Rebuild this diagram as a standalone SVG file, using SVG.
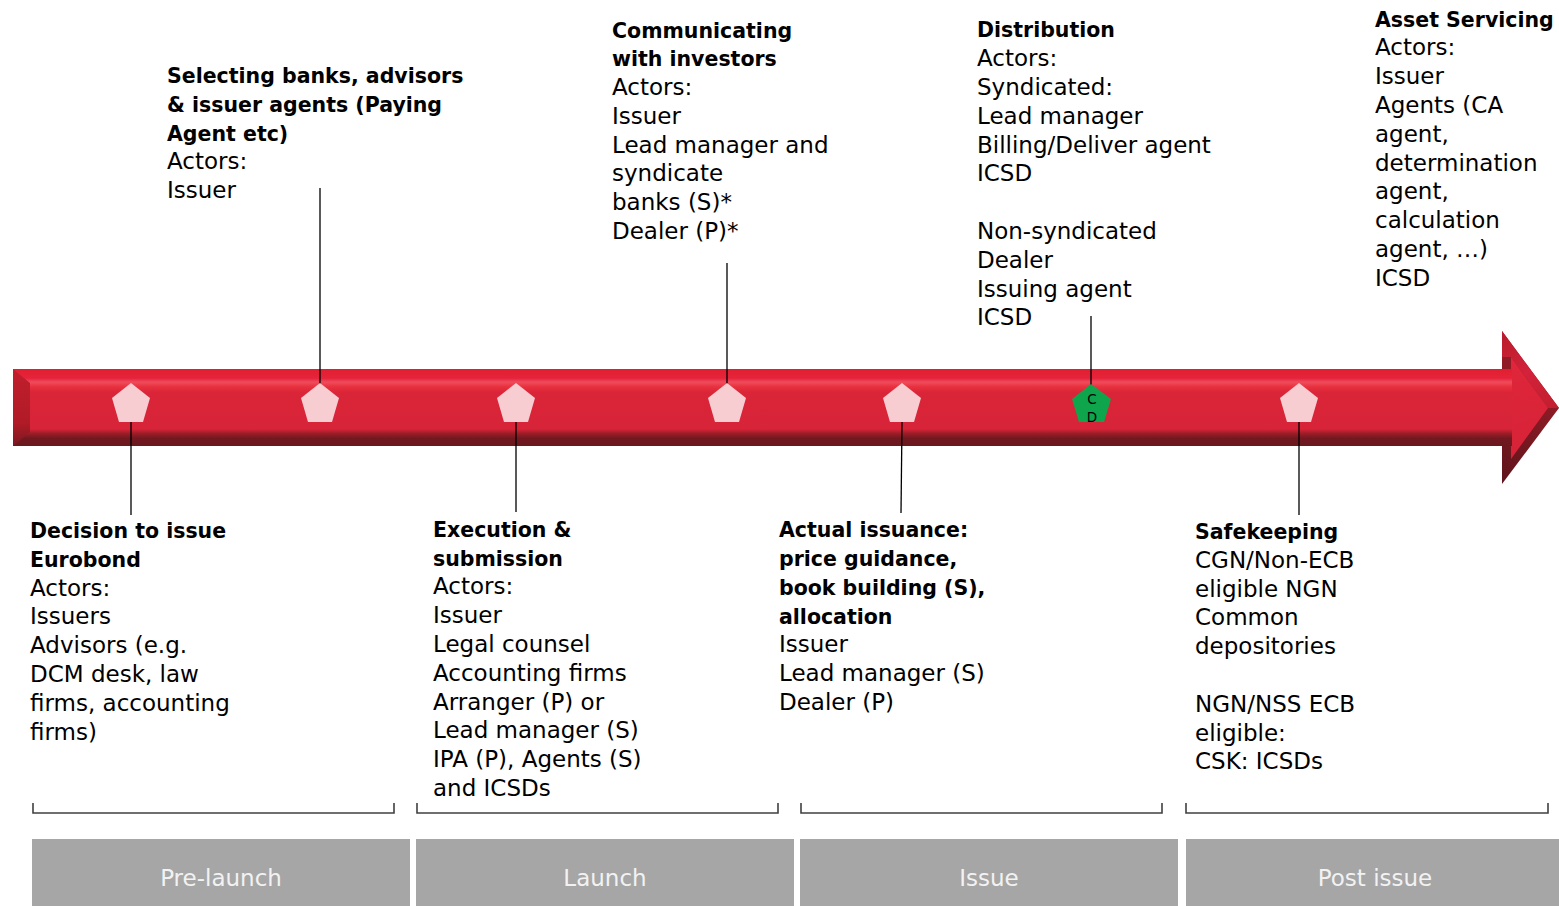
<svg xmlns="http://www.w3.org/2000/svg" width="1559" height="906" viewBox="0 0 1559 906">
  <defs>
    <style>
      .t { font-family: "DejaVu Sans", "Noto Sans", sans-serif; font-size: 23px; fill: #000; }
      .b { font-weight: bold; font-size: 20.5px; }
      .phase { font-family: "DejaVu Sans", "Noto Sans", sans-serif; font-size: 23px; fill: #f2f2f2; text-anchor: middle; }
      .stem { stroke: #000; stroke-width: 1.3; fill: none; }
      .bracket { stroke: #404040; stroke-width: 1.6; fill: none; }
      .marker { fill: #f7cdd2; }
      .phasebox { fill: #a6a6a6; }
    </style>
    <linearGradient id="bodyFill" x1="0" y1="369" x2="0" y2="446" gradientUnits="userSpaceOnUse">
      <stop offset="0" stop-color="#e21f31"/>
      <stop offset="0.12" stop-color="#e5243a"/>
      <stop offset="0.17" stop-color="#f04c5c"/>
      <stop offset="0.23" stop-color="#e8313f"/>
      <stop offset="0.3" stop-color="#da2538"/>
      <stop offset="0.78" stop-color="#d82438"/>
      <stop offset="0.84" stop-color="#9a1d27"/>
      <stop offset="0.9" stop-color="#721820"/>
      <stop offset="1" stop-color="#6a171e"/>
    </linearGradient>
    <linearGradient id="leftBevel" x1="0" y1="369" x2="0" y2="446" gradientUnits="userSpaceOnUse">
      <stop offset="0" stop-color="#c21e2c"/>
      <stop offset="0.7" stop-color="#b01b27"/>
      <stop offset="1" stop-color="#7a1820"/>
    </linearGradient>
    <linearGradient id="headUpper" x1="1502" y1="331" x2="1559" y2="408" gradientUnits="userSpaceOnUse">
      <stop offset="0" stop-color="#b81c2a"/>
      <stop offset="0.5" stop-color="#d3223a"/>
      <stop offset="1" stop-color="#c01f2e"/>
    </linearGradient>
    <linearGradient id="headLower" x1="1502" y1="484" x2="1559" y2="408" gradientUnits="userSpaceOnUse">
      <stop offset="0" stop-color="#5e141b"/>
      <stop offset="1" stop-color="#8e1b25"/>
    </linearGradient>
    <linearGradient id="headFace" x1="1511" y1="357" x2="1548" y2="460" gradientUnits="userSpaceOnUse">
      <stop offset="0" stop-color="#e0263a"/>
      <stop offset="1" stop-color="#d52237"/>
    </linearGradient>
  </defs>

  <rect width="1559" height="906" fill="#ffffff"/>

  <!-- timeline arrow: bevelled head first, shaft laid over its left edge -->
  <g id="arrow">
    <polygon points="1502,331 1559,408 1502,484" fill="url(#headLower)"/>
    <polygon points="1502,331 1559,408 1548,408 1511,357 1502,357" fill="url(#headUpper)"/>
    <polygon points="1511,357 1548,408 1511,459" fill="url(#headFace)"/>
    <rect x="13" y="369" width="1499" height="77" fill="url(#bodyFill)"/>
    <polygon points="13,369 30,383 30,432 13,446" fill="url(#leftBevel)"/>
  </g>

  <!-- connectors from markers to captions -->
  <g id="connectors">
    <line class="stem" x1="131" y1="422" x2="131" y2="515"/>
    <line class="stem" x1="320" y1="188" x2="320" y2="384"/>
    <line class="stem" x1="516" y1="422" x2="516" y2="512"/>
    <line class="stem" x1="727" y1="263" x2="727" y2="384"/>
    <line class="stem" x1="902" y1="422" x2="901" y2="513"/>
    <line class="stem" x1="1091" y1="316" x2="1091" y2="385"/>
    <line class="stem" x1="1299" y1="422" x2="1299" y2="515"/>
  </g>

  <!-- milestone markers -->
  <g id="m1"><polygon class="marker" points="131,383 150,398 143,422 119,422 112,398"/></g>
  <g id="m2"><polygon class="marker" points="320,383 339,398 332,422 308,422 301,398"/></g>
  <g id="m3"><polygon class="marker" points="516,383 535,398 528,422 504,422 497,398"/></g>
  <g id="m4"><polygon class="marker" points="727,383 746,398 739,422 715,422 708,398"/></g>
  <g id="m5"><polygon class="marker" points="902,383 921,398 914,422 890,422 883,398"/></g>
  <g id="m6">
    <polygon points="1091,384 1111,399 1104,422 1079,422 1072,399" fill="#0ea54d"/>
    <text x="1092" y="404" font-family="DejaVu Sans, sans-serif" font-size="13.5" text-anchor="middle" fill="#000">C</text>
    <text x="1092" y="422" font-family="DejaVu Sans, sans-serif" font-size="13.5" text-anchor="middle" fill="#000">D</text>
  </g>
  <g id="m7"><polygon class="marker" points="1299,383 1318,398 1311,422 1287,422 1280,398"/></g>

  <!-- captions -->
  <g id="n-decision">
    <text class="t b" x="30" y="538">Decision to issue</text>
    <text class="t b" x="30" y="567">Eurobond</text>
    <text class="t" x="30" y="596">Actors:</text>
    <text class="t" x="30" y="624">Issuers</text>
    <text class="t" x="30" y="653">Advisors (e.g.</text>
    <text class="t" x="30" y="682">DCM desk, law</text>
    <text class="t" x="30" y="711">firms, accounting</text>
    <text class="t" x="30" y="740">firms)</text>
  </g>

  <g id="n-selecting">
    <text class="t b" x="167" y="83">Selecting banks, advisors</text>
    <text class="t b" x="167" y="112">&amp; issuer agents (Paying</text>
    <text class="t b" x="167" y="141">Agent etc)</text>
    <text class="t" x="167" y="169">Actors:</text>
    <text class="t" x="167" y="198">Issuer</text>
  </g>

  <g id="n-execution">
    <text class="t b" x="433" y="537">Execution &amp;</text>
    <text class="t b" x="433" y="566">submission</text>
    <text class="t" x="433" y="594">Actors:</text>
    <text class="t" x="433" y="623">Issuer</text>
    <text class="t" x="433" y="652">Legal counsel</text>
    <text class="t" x="433" y="681">Accounting firms</text>
    <text class="t" x="433" y="710">Arranger (P) or</text>
    <text class="t" x="433" y="738">Lead manager (S)</text>
    <text class="t" x="433" y="767">IPA (P), Agents (S)</text>
    <text class="t" x="433" y="796">and ICSDs</text>
  </g>

  <g id="n-communicating">
    <text class="t b" x="612" y="38">Communicating</text>
    <text class="t b" x="612" y="66">with investors</text>
    <text class="t" x="612" y="95">Actors:</text>
    <text class="t" x="612" y="124">Issuer</text>
    <text class="t" x="612" y="153">Lead manager and</text>
    <text class="t" x="612" y="181">syndicate</text>
    <text class="t" x="612" y="210">banks (S)*</text>
    <text class="t" x="612" y="239">Dealer (P)*</text>
  </g>

  <g id="n-issuance">
    <text class="t b" x="779" y="537">Actual issuance:</text>
    <text class="t b" x="779" y="566">price guidance,</text>
    <text class="t b" x="779" y="595">book building (S),</text>
    <text class="t b" x="779" y="624">allocation</text>
    <text class="t" x="779" y="652">Issuer</text>
    <text class="t" x="779" y="681">Lead manager (S)</text>
    <text class="t" x="779" y="710">Dealer (P)</text>
  </g>

  <g id="n-distribution">
    <text class="t b" x="977" y="37">Distribution</text>
    <text class="t" x="977" y="66">Actors:</text>
    <text class="t" x="977" y="95">Syndicated:</text>
    <text class="t" x="977" y="124">Lead manager</text>
    <text class="t" x="977" y="153">Billing/Deliver agent</text>
    <text class="t" x="977" y="181">ICSD</text>
    <text class="t" x="977" y="239">Non-syndicated</text>
    <text class="t" x="977" y="268">Dealer</text>
    <text class="t" x="977" y="297">Issuing agent</text>
    <text class="t" x="977" y="325">ICSD</text>
  </g>

  <g id="n-safekeeping">
    <text class="t b" x="1195" y="539">Safekeeping</text>
    <text class="t" x="1195" y="568">CGN/Non-ECB</text>
    <text class="t" x="1195" y="597">eligible NGN</text>
    <text class="t" x="1195" y="625">Common</text>
    <text class="t" x="1195" y="654">depositories</text>
    <text class="t" x="1195" y="712">NGN/NSS ECB</text>
    <text class="t" x="1195" y="741">eligible:</text>
    <text class="t" x="1195" y="769">CSK: ICSDs</text>
  </g>

  <g id="n-servicing">
    <text class="t b" x="1375" y="27">Asset Servicing</text>
    <text class="t" x="1375" y="55">Actors:</text>
    <text class="t" x="1375" y="84">Issuer</text>
    <text class="t" x="1375" y="113">Agents (CA</text>
    <text class="t" x="1375" y="142">agent,</text>
    <text class="t" x="1375" y="171">determination</text>
    <text class="t" x="1375" y="199">agent,</text>
    <text class="t" x="1375" y="228">calculation</text>
    <text class="t" x="1375" y="257">agent, …)</text>
    <text class="t" x="1375" y="286">ICSD</text>
  </g>

  <!-- phase brackets -->
  <g id="brackets">
    <path class="bracket" d="M33,803 V813 H394 V803"/>
    <path class="bracket" d="M417,803 V813 H778 V803"/>
    <path class="bracket" d="M801,803 V813 H1162 V803"/>
    <path class="bracket" d="M1186,803 V813 H1548 V803"/>
  </g>

  <!-- phase bands -->
  <g id="phase-prelaunch">
    <rect class="phasebox" x="32" y="839" width="378" height="67"/>
    <text class="phase" x="221" y="886">Pre-launch</text>
  </g>
  <g id="phase-launch">
    <rect class="phasebox" x="416" y="839" width="378" height="67"/>
    <text class="phase" x="605" y="886">Launch</text>
  </g>
  <g id="phase-issue">
    <rect class="phasebox" x="800" y="839" width="378" height="67"/>
    <text class="phase" x="989" y="886">Issue</text>
  </g>
  <g id="phase-postissue">
    <rect class="phasebox" x="1186" y="839" width="373" height="67"/>
    <text class="phase" x="1375" y="886">Post issue</text>
  </g>
</svg>
